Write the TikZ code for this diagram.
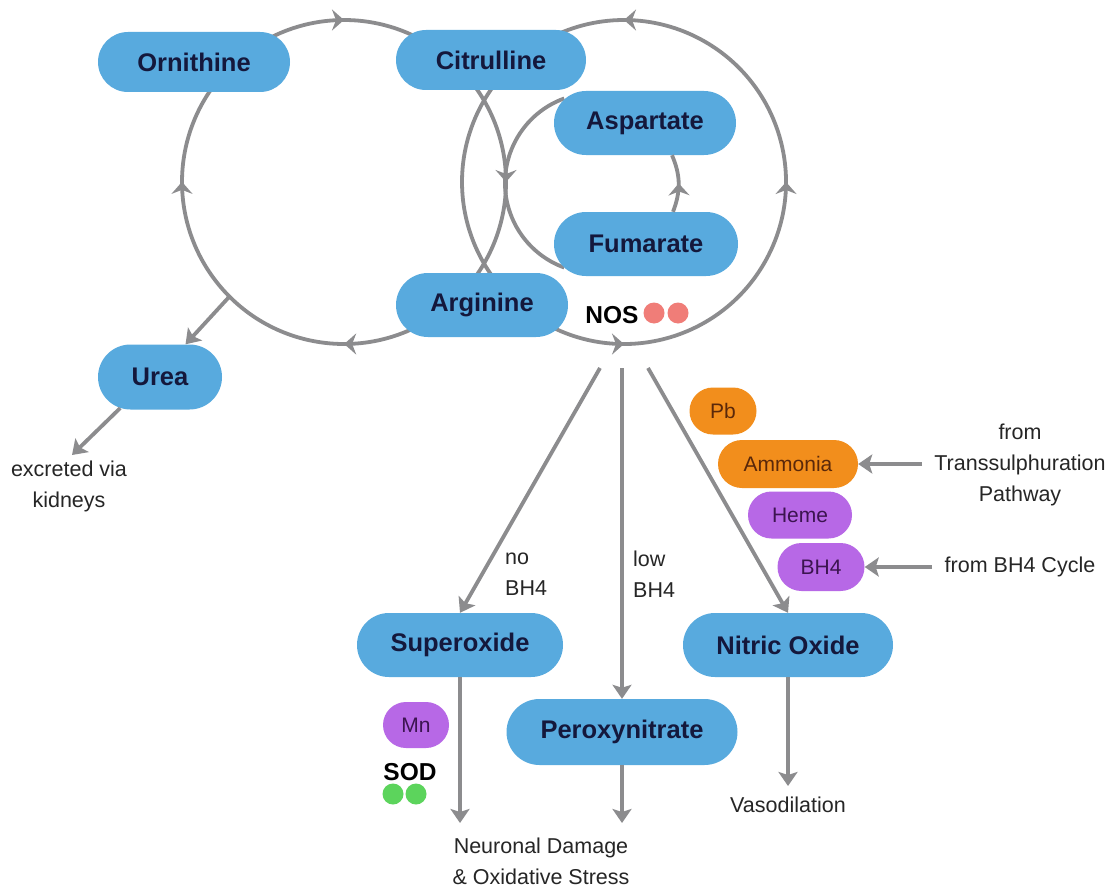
\documentclass[tikz,border=0pt]{standalone}
\usepackage{fontspec}
\setmainfont{Liberation Sans}
\usetikzlibrary{shapes.misc,arrows.meta,decorations.markings,calc}

\definecolor{bluefill}{RGB}{88,170,222}
\definecolor{navytext}{RGB}{20,24,60}
\definecolor{orangefill}{RGB}{242,142,28}
\definecolor{orangetext}{RGB}{90,40,10}
\definecolor{purplefill}{RGB}{183,104,230}
\definecolor{purpletext}{RGB}{60,20,80}
\definecolor{linegray}{RGB}{140,140,142}
\definecolor{dotred}{RGB}{240,125,120}
\definecolor{dotgreen}{RGB}{92,212,92}

\begin{document}
\begin{tikzpicture}[x=1pt,y=1pt,
  pill/.style={rounded rectangle, inner sep=0pt, draw=none},
  big/.style={pill, fill=bluefill, text=navytext, font=\fontsize{25.5}{30}\selectfont\bfseries},
  ornode/.style={pill, fill=orangefill, text=orangetext, font=\fontsize{21}{25}\selectfont},
  pnode/.style={pill, fill=purplefill, text=purpletext, font=\fontsize{21}{25}\selectfont},
  note/.style={font=\fontsize{21.5}{31}\selectfont, text=black!85, align=center, inner sep=0pt},
  tag/.style={font=\fontsize{24.5}{28}\selectfont\bfseries, inner sep=0pt},
  dot/.style={circle, minimum size=21pt, inner sep=0pt},
  cyc/.style={draw=linegray, line width=3.8pt},
  flow/.style={draw=linegray, line width=3.8pt, -{Stealth[length=14pt,width=19pt,inset=3pt]}},
  midtip/.style={postaction={decorate, decoration={markings,
      mark=at position #1 with {\arrow{Stealth[length=12pt,width=21pt,inset=4pt]}}}}},
]
\fill[white] (0,0) rectangle (1116,-888);
\useasboundingbox (0,0) rectangle (1116,-888);

% centres of the three cycles
\coordinate (c1) at (344,-182);
\coordinate (c2) at (624,-182);
\coordinate (c3) at (595,-183);

% urea cycle
\draw[cyc, midtip=0.5] ($(c1)+(125:162)$) arc[start angle=125, end angle=55, radius=162pt];
\draw[cyc, midtip=0.5] ($(c1)+(45:162)$) arc[start angle=45, end angle=-45, radius=162pt];
\draw[cyc, midtip=0.235, midtip=0.765] ($(c1)+(-50:162)$) arc[start angle=-50, end angle=-220, radius=162pt];

% NOS cycle
\draw[cyc, midtip=0.125, midtip=0.5, midtip=0.875] ($(c2)+(-120:162)$) arc[start angle=-120, end angle=120, radius=162pt];
\draw[cyc] ($(c2)+(125:162)$) arc[start angle=125, end angle=235, radius=162pt];

% aspartate / fumarate loop
\draw[cyc] ($(c3)+(110:90)$) arc[start angle=110, end angle=250, radius=90pt];

% main metabolites
\node[big, minimum width=192pt, minimum height=60pt] (orn) at (194,-62) {Ornithine};
\node[big, minimum width=190pt, minimum height=60pt] (cit) at (491,-60) {Citrulline};
\node[big, minimum width=182pt, minimum height=64pt] (asp) at (645,-123) {Aspartate};
\node[big, minimum width=184pt, minimum height=64pt] (fum) at (646,-244) {Fumarate};
\node[big, minimum width=172pt, minimum height=64pt] (arg) at (482,-305) {Arginine};
\node[big, minimum width=124pt, minimum height=65pt] (urea) at (160,-377) {Urea};
\node[big, minimum width=206pt, minimum height=64pt] (sup) at (460,-645) {Superoxide};
\node[big, minimum width=231pt, minimum height=66pt] (per) at (622,-732) {Peroxynitrate};
\node[big, minimum width=210pt, minimum height=64pt] (no) at (788,-645) {Nitric Oxide};

% cofactors
\node[ornode, minimum width=67pt, minimum height=47pt] (pb) at (723,-411) {Pb};
\node[ornode, minimum width=140pt, minimum height=48pt] (amm) at (788,-464) {Ammonia};
\node[pnode, minimum width=104pt, minimum height=47pt] (heme) at (800,-515) {Heme};
\node[pnode, minimum width=87pt, minimum height=48pt] (bh) at (821,-567) {BH4};
\node[pnode, minimum width=66pt, minimum height=46pt] (mn) at (416,-725) {Mn};

% enzymes
\node[tag] (nos) at (612,-315) {NOS};
\node[dot, fill=dotred] (nosa) at (654,-313) {};
\node[dot, fill=dotred] (nosb) at (678,-313) {};
\node[tag] (sod) at (410,-772) {SOD};
\node[dot, fill=dotgreen] (soda) at (393,-794) {};
\node[dot, fill=dotgreen] (sodb) at (416,-794) {};

% captions
\node[note] (kid) at (69,-486) {excreted via\\kidneys};
\node[note] (tsp) at (1020,-465) {from\\Transsulphuration\\Pathway};
\node[note] (bhc) at (1020,-567) {from BH4 Cycle};
\node[note] (vaso) at (788,-805) {Vasodilation};
\node[note] (dmg) at (541,-861) {Neuronal Damage\\\& Oxidative Stress};
\node[note, align=left, anchor=west] (nob) at (505,-574) {no\\BH4};
\node[note, align=left, anchor=west] (lowb) at (633,-574) {low\\BH4};

% fumarate back to aspartate
\draw[cyc, midtip=0.5] ([xshift=27pt]fum.north) to[bend right=22] ([xshift=27pt]asp.south);

% urea branch
\coordinate (u0) at ($(c1)+(-135:162)$);
\draw[flow] (u0) -- (urea.52);
\coordinate (kidtop) at (72,-455);
\draw[flow] (urea.218) -- (kidtop);

% NOS products
\coordinate (s1) at (600,-368);
\coordinate (s2) at (622,-368);
\coordinate (s3) at (648,-368);
\draw[flow] (s1) -- (sup.north);
\draw[flow] (s2) -- (per.north);
\draw[flow] (s3) -- (no.north);

\coordinate (e1) at (460,-823);
\coordinate (e2) at (622,-823);
\coordinate (e3) at (788,-786);
\draw[flow] (sup.south) -- (e1);
\draw[flow] (per.south) -- (e2);
\draw[flow] (no.south) -- (e3);

% external inputs
\coordinate (t1) at (922,-464);
\coordinate (t2) at (932,-567);
\draw[flow] (t1) -- (amm.east);
\draw[flow] (t2) -- (bh.east);
\end{tikzpicture}
\end{document}
